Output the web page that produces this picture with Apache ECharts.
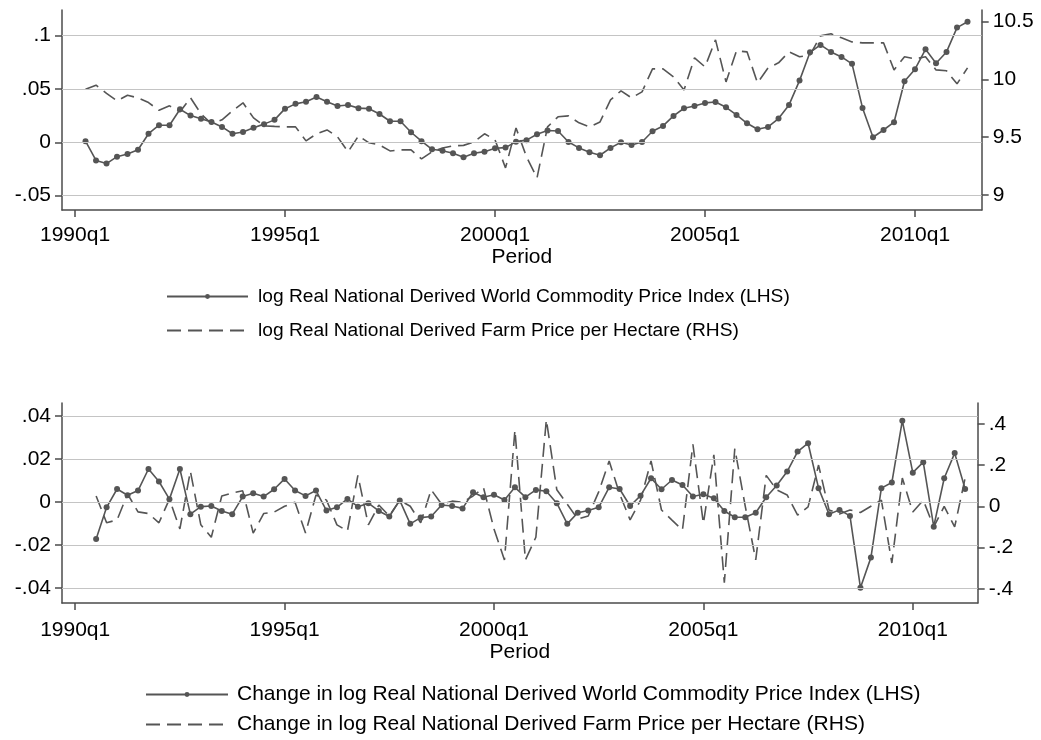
<!DOCTYPE html>
<html>
<head>
<meta charset="utf-8">
<script src="https://cdn.jsdelivr.net/npm/echarts@6/dist/echarts.min.js"></script>
<style>
html,body{margin:0;padding:0;background:#fff;}
#chart{width:1041px;height:740px;}
</style>
</head>
<body>
<div id="chart"></div>
<script>
// ---------------- data ----------------
const periods = [
 '1990q2','1990q3','1990q4',
 '1991q1','1991q2','1991q3','1991q4','1992q1','1992q2','1992q3','1992q4',
 '1993q1','1993q2','1993q3','1993q4','1994q1','1994q2','1994q3','1994q4',
 '1995q1','1995q2','1995q3','1995q4','1996q1','1996q2','1996q3','1996q4',
 '1997q1','1997q2','1997q3','1997q4','1998q1','1998q2','1998q3','1998q4',
 '1999q1','1999q2','1999q3','1999q4','2000q1','2000q2','2000q3','2000q4',
 '2001q1','2001q2','2001q3','2001q4','2002q1','2002q2','2002q3','2002q4',
 '2003q1','2003q2','2003q3','2003q4','2004q1','2004q2','2004q3','2004q4',
 '2005q1','2005q2','2005q3','2005q4','2006q1','2006q2','2006q3','2006q4',
 '2007q1','2007q2','2007q3','2007q4','2008q1','2008q2','2008q3','2008q4',
 '2009q1','2009q2','2009q3','2009q4','2010q1','2010q2','2010q3','2010q4',
 '2011q1','2011q2'
];

// top panel: levels (1990q2 .. 2011q2)
const lvlCommodity = [
 0.001, -0.017, -0.020, -0.0135, -0.011, -0.007, 0.008, 0.016, 0.016, 0.031,
 0.025, 0.022, 0.019, 0.0144, 0.008, 0.0097, 0.0137, 0.017, 0.021, 0.0315,
 0.036, 0.038, 0.0425, 0.038, 0.034, 0.035, 0.032, 0.0315, 0.0265, 0.0197,
 0.0197, 0.0094, 0.001, -0.0066, -0.008, -0.0103, -0.014, -0.0103, -0.0088, -0.0056,
 -0.005, 0.0006, 0.002, 0.0075, 0.011, 0.0106, 0.0003, -0.0053, -0.0094, -0.0122,
 -0.0053, 0.0, -0.0025, 0.0003, 0.0103, 0.0153, 0.0247, 0.0319, 0.034, 0.0369,
 0.0378, 0.0328, 0.0256, 0.0178, 0.0122, 0.0144, 0.0222, 0.035, 0.0578, 0.0844,
 0.0913, 0.0847, 0.080, 0.0735, 0.0322, 0.0047, 0.0115, 0.0188, 0.0572, 0.0685,
 0.0872, 0.0741, 0.0847, 0.1075, 0.113
];
const lvlFarm = [
 9.915, 9.950, 9.879, 9.814, 9.862, 9.840, 9.799, 9.732, 9.771, 9.719,
 9.840, 9.702, 9.615, 9.650, 9.728, 9.797, 9.667, 9.598, 9.593, 9.589,
 9.589, 9.468, 9.529, 9.563, 9.503, 9.373, 9.511, 9.451, 9.433, 9.381,
 9.390, 9.390, 9.312, 9.373, 9.407, 9.425, 9.429, 9.459, 9.529, 9.477,
 9.234, 9.580, 9.330, 9.148, 9.589, 9.676, 9.684, 9.624, 9.589, 9.632,
 9.823, 9.901, 9.840, 9.892, 10.091, 10.091, 10.022, 9.909, 10.186, 10.108,
 10.342, 9.978, 10.247, 10.238, 9.970, 10.099, 10.143, 10.238, 10.195, 10.212,
 10.376, 10.394, 10.359, 10.324, 10.316, 10.316, 10.316, 10.082, 10.195, 10.177,
 10.195, 10.082, 10.074, 9.961, 10.099
];

// bottom panel: changes (1990q3 .. 2011q2)
const dCommodity = [
 -0.0172, -0.0025, 0.006, 0.0031, 0.0053, 0.0153, 0.0095, 0.0013, 0.0153,
 -0.0057, -0.0022, -0.0019, -0.0042, -0.0057, 0.0025, 0.004, 0.0025, 0.0059, 0.0107,
 0.0053, 0.0028, 0.0053, -0.004, -0.0025, 0.0014, -0.0022, -0.0006, -0.0042, -0.0068,
 0.0007, -0.0102, -0.0073, -0.0068, -0.0014, -0.0019, -0.003, 0.0045, 0.0022, 0.0033,
 0.0009, 0.0068, 0.0022, 0.0056, 0.005, -0.0006, -0.0102, -0.005, -0.004, -0.0025,
 0.0068, 0.006, -0.0019, 0.0029, 0.011, 0.0059, 0.0102, 0.0079, 0.0025, 0.0036,
 0.0017, -0.0042, -0.0071, -0.0071, -0.005, 0.0022, 0.0076, 0.0141, 0.0234, 0.0273,
 0.0064, -0.0057, -0.0037, -0.0065, -0.0399, -0.0259, 0.0064, 0.009, 0.0378, 0.0136,
 0.0185, -0.0115, 0.011, 0.0227, 0.006
];
const dFarm = [
 0.05, -0.08, -0.066, 0.06, -0.027, -0.035, -0.08, 0.035, -0.11,
 0.17, -0.09, -0.15, 0.05, 0.065, 0.075, -0.13, -0.035, -0.028, 0.0,
 0.02, -0.13, 0.055, 0.03, -0.09, -0.12, 0.15, -0.09, 0.006, -0.047,
 0.03, 0.0, -0.08, 0.08, 0.01, 0.025, 0.02, 0.05, 0.09, -0.11,
 -0.26, 0.37, -0.26, -0.15, 0.42, 0.08, 0.01, -0.062, -0.047, 0.07,
 0.22, 0.06, -0.066, 0.03, 0.22, -0.018, -0.067, -0.115, 0.3, -0.083,
 0.25, -0.37, 0.28, 0.0, -0.26, 0.15, 0.08, 0.055, -0.043, -0.003,
 0.2, -0.018, -0.037, -0.018, -0.03, 0.0, 0.03, -0.275, 0.137, -0.028,
 0.03, -0.1, 0.0, -0.1, 0.137
];

// tick labels
const xTickPeriods = ['1990q1','1995q1','2000q1','2005q1','2010q1'];
const topLeftTicks = [-0.05, 0, 0.05, 0.1];
const topRightTicks = [9, 9.5, 10, 10.5];
const botLeftTicks = [-0.04, -0.02, 0, 0.02, 0.04];
const botRightTicks = [-0.4, -0.2, 0, 0.2, 0.4];

const nameTop1 = 'log Real National Derived World Commodity Price Index (LHS)';
const nameTop2 = 'log Real National Derived Farm Price per Hectare (RHS)';
const nameBot1 = 'Change in log Real National Derived World Commodity Price Index (LHS)';
const nameBot2 = 'Change in log Real National Derived Farm Price per Hectare (RHS)';

// ---------------- helpers ----------------
function qIndex(p) { // quarters since 1990q1
  const y = parseInt(p.slice(0, 4), 10), q = parseInt(p.slice(5), 10);
  return (y - 1990) * 4 + (q - 1);
}
function pairs(labels, vals) { return vals.map((v, i) => [qIndex(labels[i]), v]); }
function stataNum(v) {
  let s = String(v);
  s = s.replace(/^0\./, '.').replace(/^-0\./, '-.');
  return s;
}
const xTickVals = xTickPeriods.map(qIndex);
const FONT = 'Liberation Sans, Arial, sans-serif';
const AX = '#4b4b4b';
const LINE = '#555555';
const GRIDC = '#c4c4c4';
const LABEL_SIZE = 21;

function xAxisCfg(gridIndex, min, max, margin, gap) {
  return {
    type: 'value', gridIndex, min, max,
    name: 'Period', nameLocation: 'middle', nameGap: gap,
    nameTextStyle: { fontFamily: FONT, fontSize: LABEL_SIZE, color: '#000' },
    axisLine: { show: true, onZero: false, lineStyle: { color: AX, width: 1.5 } },
    axisTick: { show: true, inside: false, length: 7, customValues: xTickVals, lineStyle: { color: AX, width: 1.5 } },
    axisLabel: { show: true, customValues: xTickVals, margin: margin, fontFamily: FONT, fontSize: LABEL_SIZE, color: '#000',
      formatter: v => (1990 + v / 4) + 'q1' },
    splitLine: { show: false }
  };
}
function yAxisCfg(gridIndex, pos, min, max, ticks) {
  return {
    type: 'value', gridIndex, position: pos, min, max,
    axisLine: { show: true, onZero: false, lineStyle: { color: AX, width: 1.5 } },
    axisTick: { show: true, inside: false, length: 7, customValues: ticks, lineStyle: { color: AX, width: 1.5 } },
    axisLabel: { show: true, customValues: ticks, margin: 11, fontFamily: FONT, fontSize: LABEL_SIZE, color: '#000',
      formatter: v => stataNum(v) },
    splitLine: { show: false }
  };
}
function gridLines(xi, yi, ticks) {
  return {
    type: 'line', xAxisIndex: xi, yAxisIndex: yi, data: [], z: 1, silent: true,
    markLine: {
      silent: true, symbol: 'none', animation: false,
      label: { show: false },
      lineStyle: { color: GRIDC, type: 'solid', width: 1.2 },
      data: ticks.map(v => ({ yAxis: v }))
    }
  };
}
function solidSeries(name, xi, yi, data) {
  return {
    name, type: 'line', xAxisIndex: xi, yAxisIndex: yi, data, z: 3,
    symbol: 'circle', symbolSize: 6, showSymbol: true,
    itemStyle: { color: LINE },
    lineStyle: { color: LINE, width: 1.6 }
  };
}
function dashSeries(name, xi, yi, data) {
  return {
    name, type: 'line', xAxisIndex: xi, yAxisIndex: yi, data, z: 2,
    symbol: 'none', showSymbol: false,
    itemStyle: { color: LINE },
    lineStyle: { color: LINE, width: 1.6, type: [14, 7] }
  };
}

const chart = echarts.init(document.getElementById('chart'), null, { renderer: 'canvas' });
chart.setOption({
  animation: false,
  backgroundColor: '#ffffff',
  grid: [
    { left: 62, top: 10, width: 919.7, height: 200 },
    { left: 62, top: 403, width: 915.7, height: 200 }
  ],
  xAxis: [ xAxisCfg(0, -1.24, 86.35, 15, 34), xAxisCfg(1, -1.26, 86.2, 17, 32) ],
  yAxis: [
    yAxisCfg(0, 'left', -0.0635, 0.124, topLeftTicks),
    yAxisCfg(0, 'right', 8.87, 10.60, topRightTicks),
    yAxisCfg(1, 'left', -0.047, 0.046, botLeftTicks),
    yAxisCfg(1, 'right', -0.469, 0.501, botRightTicks)
  ],
  legend: [
    { data: [nameTop1, { name: nameTop2, itemStyle: { opacity: 0 } }],
      orient: 'vertical', left: 166, top: 287, padding: 0, height: 120,
      itemWidth: 81, itemHeight: 6, itemGap: 15,
      textStyle: { fontFamily: FONT, fontSize: 19.2, color: '#000', padding: [0, 0, 0, 5] } },
    { data: [nameBot1, { name: nameBot2, itemStyle: { opacity: 0 } }],
      orient: 'vertical', left: 145, top: 684, padding: 0, height: 56,
      itemWidth: 82, itemHeight: 6, itemGap: 9,
      textStyle: { fontFamily: FONT, fontSize: 21, color: '#000', padding: [0, 0, 0, 4] } }
  ],
  series: [
    gridLines(0, 0, topLeftTicks),
    gridLines(1, 2, botLeftTicks),
    dashSeries(nameTop2, 0, 1, pairs(periods, lvlFarm)),
    solidSeries(nameTop1, 0, 0, pairs(periods, lvlCommodity)),
    dashSeries(nameBot2, 1, 3, pairs(periods.slice(1), dFarm)),
    solidSeries(nameBot1, 1, 2, pairs(periods.slice(1), dCommodity))
  ]
});
</script>
</body>
</html>
